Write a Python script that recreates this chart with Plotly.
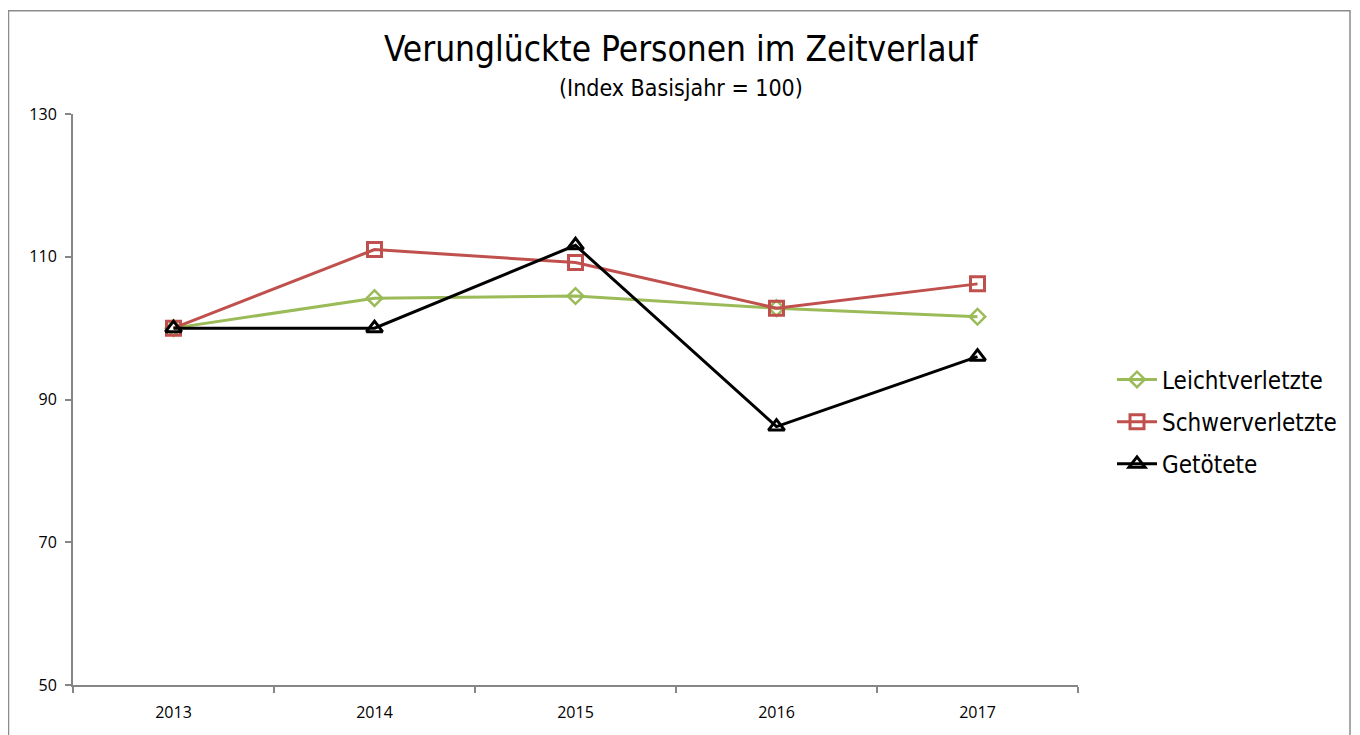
import plotly.graph_objects as go

years = ["2013", "2014", "2015", "2016", "2017"]
leicht = [100, 104.2, 104.5, 102.8, 101.6]
schwer = [100, 111.0, 109.2, 102.8, 106.2]
getoetet = [100, 100, 111.6, 86.2, 96.0]
y_ticks = [50, 70, 90, 110, 130]

OFF = 8  # page body margin
W, H = 1360 - OFF, 735 - OFF
L, R, T, B = 73 - OFF, 1078 - OFF, 114 - OFF, 689 - OFF

def px(x):
    return (x - OFF - L) / (R - L)

def py(y):
    return (B - (y - OFF)) / (B - T)

NARROW = "DejaVu Sans Condensed, Liberation Sans Narrow, Liberation Sans"

fig = go.Figure()
fig.add_trace(go.Scatter(x=years, y=leicht, name="Leichtverletzte", mode="lines+markers", legendgroup="a",
                         line=dict(color="#9BBB59", width=3),
                         marker=dict(symbol="diamond-open", size=12, color="#9BBB59", line=dict(width=2.5, color="#9BBB59"))))
fig.add_trace(go.Scatter(x=years, y=schwer, name="Schwerverletzte", mode="lines+markers", legendgroup="b",
                         line=dict(color="#C0504D", width=3),
                         marker=dict(symbol="square-open", size=14, color="#C0504D", line=dict(width=3, color="#C0504D"))))
fig.add_trace(go.Scatter(x=years, y=getoetet, name="Getötete", mode="lines+markers", legendgroup="c",
                         line=dict(color="#000000", width=3),
                         marker=dict(symbol="triangle-up-open", size=14, color="#000000", line=dict(width=3, color="#000000"))))

fig.update_layout(
    width=W, height=H,
    margin=dict(l=L, r=W - R, t=T, b=H - B),
    paper_bgcolor="white", plot_bgcolor="white",
    showlegend=True,
    legend=dict(x=px(1112), y=py(424), xanchor="left", yanchor="middle",
                font=dict(family=NARROW, size=24, color="#000"),
                itemwidth=40, tracegroupgap=8, bgcolor="rgba(0,0,0,0)"),
    xaxis=dict(type="category", range=[-0.5, 4.5], showgrid=False, zeroline=False,
               showline=True, linecolor="#868686", linewidth=2,
               ticks="outside", tickson="boundaries", ticklen=6, tickcolor="#868686", tickwidth=1.5,
               ticklabelstandoff=12,
               tickfont=dict(family="Open Sans", size=16, color="#000")),
    yaxis=dict(range=[50, 130], tickvals=y_ticks, showgrid=False, zeroline=False,
               showline=True, linecolor="#868686", linewidth=2,
               ticks="outside", ticklen=6, tickcolor="#868686", tickwidth=1.5,
               ticklabelstandoff=5,
               tickfont=dict(family="Open Sans", size=16, color="#000")),
    annotations=[
        dict(text="Verunglückte Personen im Zeitverlauf", xref="paper", yref="paper",
             x=px(681), y=py(49), xanchor="center", yanchor="middle", showarrow=False,
             font=dict(family=NARROW, size=35, color="#000")),
        dict(text="(Index Basisjahr = 100)", xref="paper", yref="paper",
             x=px(681), y=py(88), xanchor="center", yanchor="middle", showarrow=False,
             font=dict(family=NARROW, size=23, color="#000")),
    ],
    shapes=[dict(type="rect", xref="paper", yref="paper",
                 x0=px(8.5), x1=px(1350), y0=py(760), y1=py(10),
                 line=dict(color="#8C8C8C", width=1.5), fillcolor="rgba(0,0,0,0)", layer="below")],
)

fig.write_html("out.html")
